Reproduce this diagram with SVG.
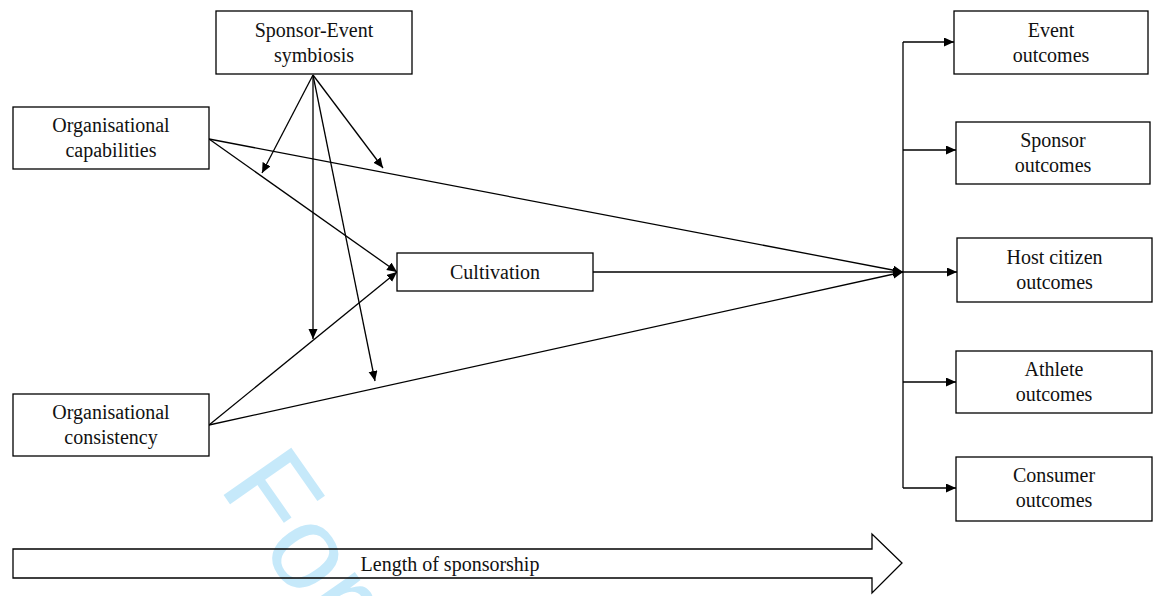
<svg xmlns="http://www.w3.org/2000/svg" width="1153" height="596" viewBox="0 0 1153 596">
<defs>
<marker id="ah" markerUnits="userSpaceOnUse" markerWidth="11" markerHeight="10" refX="10" refY="4.5" orient="auto">
<path d="M0,0 L10,4.5 L0,9 z" fill="#000"/>
</marker>
<style>
.box{fill:#fff;stroke:#000;stroke-width:1.3}
.t{font-family:"Liberation Serif","Times New Roman",serif;font-size:20px;fill:#111;text-anchor:middle}
.c{fill:none;stroke:#000;stroke-width:1.3}
.a{fill:none;stroke:#000;stroke-width:1.3;marker-end:url(#ah)}
</style>
</defs>
<rect width="1153" height="596" fill="#fff"/>
<text id="watermark" transform="translate(218,487) rotate(55)" font-family="'Liberation Sans',Arial,sans-serif" font-size="120" fill="#c6e9fa">For</text>

<g id="connectors">
<line class="a" x1="313" y1="75" x2="262" y2="173"/>
<line class="a" x1="313" y1="75" x2="383" y2="168"/>
<line class="a" x1="313" y1="75" x2="313" y2="339"/>
<line class="a" x1="313" y1="75" x2="375" y2="381"/>
<line class="a" x1="209" y1="139" x2="397" y2="272"/>
<line class="a" x1="209" y1="139" x2="903" y2="272"/>
<line class="a" x1="209" y1="425" x2="397" y2="272"/>
<line class="a" x1="209" y1="425" x2="903" y2="272"/>
<line class="a" x1="593" y1="272" x2="903" y2="272"/>
<line class="c" x1="903" y1="42" x2="903" y2="488"/>
<line class="a" x1="903" y1="42" x2="954" y2="42"/>
<line class="a" x1="903" y1="150" x2="956" y2="150"/>
<line class="a" x1="903" y1="272" x2="957" y2="272"/>
<line class="a" x1="903" y1="382" x2="956" y2="382"/>
<line class="a" x1="903" y1="488" x2="956" y2="488"/>
</g>

<g id="sponsor-event">
<rect class="box" x="216" y="11" width="196" height="63"/>
<text class="t" x="314" y="37">Sponsor-Event</text>
<text class="t" x="314" y="62">symbiosis</text>
</g>
<g id="org-capabilities">
<rect class="box" x="13" y="107" width="196" height="62"/>
<text class="t" x="111" y="132">Organisational</text>
<text class="t" x="111" y="157">capabilities</text>
</g>
<g id="org-consistency">
<rect class="box" x="13" y="394" width="196" height="62"/>
<text class="t" x="111" y="419">Organisational</text>
<text class="t" x="111" y="444">consistency</text>
</g>
<g id="cultivation">
<rect class="box" x="397" y="253" width="196" height="38"/>
<text class="t" x="495" y="279">Cultivation</text>
</g>
<g id="event-outcomes">
<rect class="box" x="954" y="11" width="194" height="63"/>
<text class="t" x="1051" y="37">Event</text>
<text class="t" x="1051" y="62">outcomes</text>
</g>
<g id="sponsor-outcomes">
<rect class="box" x="956" y="122" width="194" height="62"/>
<text class="t" x="1053" y="147">Sponsor</text>
<text class="t" x="1053" y="172">outcomes</text>
</g>
<g id="host-outcomes">
<rect class="box" x="957" y="238" width="195" height="64"/>
<text class="t" x="1054.5" y="264">Host citizen</text>
<text class="t" x="1054.5" y="289">outcomes</text>
</g>
<g id="athlete-outcomes">
<rect class="box" x="956" y="351" width="196" height="62"/>
<text class="t" x="1054" y="376">Athlete</text>
<text class="t" x="1054" y="401">outcomes</text>
</g>
<g id="consumer-outcomes">
<rect class="box" x="956" y="457" width="196" height="64"/>
<text class="t" x="1054" y="482">Consumer</text>
<text class="t" x="1054" y="507">outcomes</text>
</g>
<g id="length-arrow">
<path d="M13,549 L872,549 L872,534 L902,563 L872,593 L872,578 L13,578 Z" fill="none" stroke="#000" stroke-width="1.3"/>
<text class="t" x="450" y="571">Length of sponsorship</text>
</g>
</svg>
